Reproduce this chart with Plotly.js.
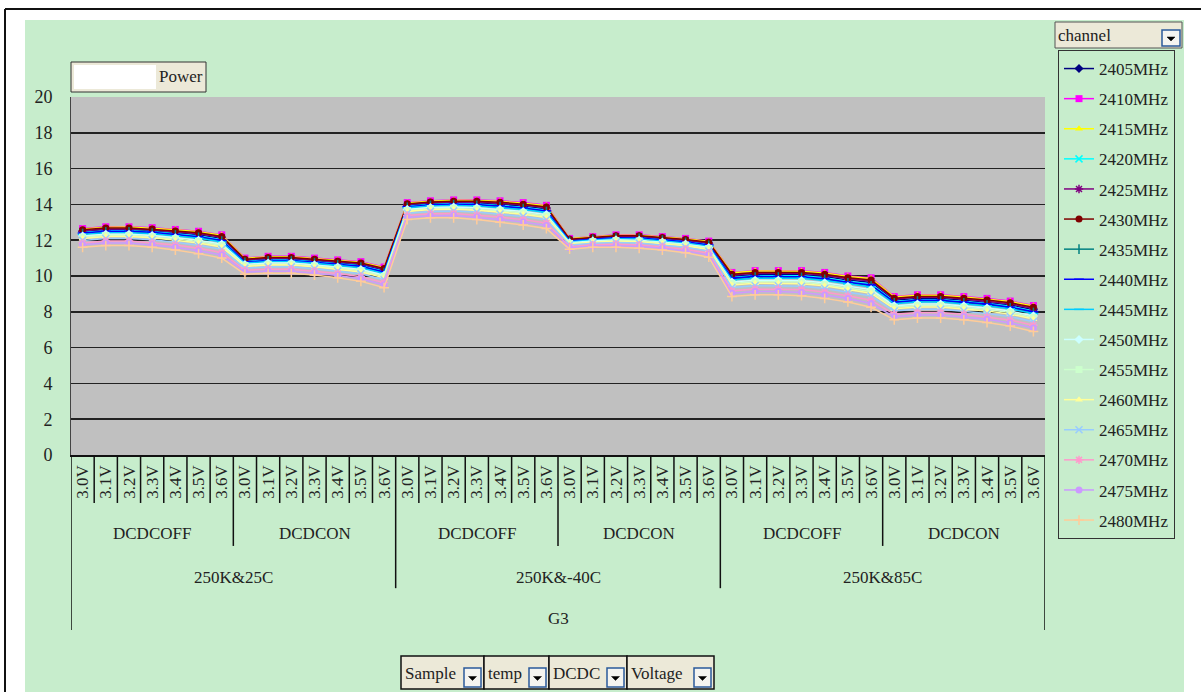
<!DOCTYPE html>
<html>
<head>
<meta charset="utf-8">
<script src="https://cdn.plot.ly/plotly-3.0.1.min.js"></script>
<style>html,body{margin:0;padding:0;background:#fff;}#chart{width:1201px;height:692px;}</style>
</head>
<body>
<div id="chart"></div>
<script>
// ---- categories (4-level x axis) ----
const samples = ['G3'];
const temps = ['250K&25C', '250K&-40C', '250K&85C'];
const dcdcModes = ['DCDCOFF', 'DCDCON'];
const voltages = ['3.0V', '3.1V', '3.2V', '3.3V', '3.4V', '3.5V', '3.6V'];

// ---- series: legend names ----
const channels = ['2405MHz','2410MHz','2415MHz','2420MHz','2425MHz','2430MHz','2435MHz','2440MHz',
                  '2445MHz','2450MHz','2455MHz','2460MHz','2465MHz','2470MHz','2475MHz','2480MHz'];

// ---- Power values, order: 25C OFF, 25C ON, -40C OFF, -40C ON, 85C OFF, 85C ON ----
const ch2405 = [12.48,12.58,12.58,12.52,12.42,12.30,12.09, 10.86,10.95,10.95,10.85,10.74,10.62,10.32, 13.95,14.05,14.09,14.07,14.01,13.90,13.74, 12.00,12.10,12.19,12.18,12.08,11.97,11.81, 9.98,10.08,10.08,10.08,9.97,9.77,9.64, 8.64,8.74,8.74,8.64,8.53,8.38,8.12];
const ch2410 = [12.65,12.75,12.75,12.70,12.60,12.50,12.30, 11.00,11.10,11.10,11.00,10.90,10.80,10.50, 14.10,14.20,14.25,14.25,14.20,14.10,13.95, 12.10,12.20,12.30,12.30,12.20,12.10,11.95, 10.20,10.30,10.30,10.30,10.20,10.00,9.90, 8.85,8.95,8.95,8.85,8.75,8.60,8.35];
const ch2415 = [12.63,12.73,12.74,12.68,12.58,12.47,12.28, 10.98,11.08,11.08,10.98,10.88,10.77,10.47, 14.08,14.18,14.23,14.22,14.17,14.07,13.92, 12.09,12.19,12.28,12.28,12.18,12.08,11.93, 10.18,10.28,10.28,10.27,10.17,9.97,9.86, 8.83,8.93,8.93,8.83,8.72,8.57,8.32];
const ch2420 = [12.43,12.53,12.53,12.47,12.36,12.24,12.03, 10.81,10.90,10.90,10.80,10.69,10.57,10.26, 13.90,14.00,14.04,14.02,13.95,13.84,13.68, 11.97,12.07,12.15,12.14,12.04,11.93,11.76, 9.92,10.02,10.02,10.01,9.90,9.70,9.55, 8.58,8.68,8.68,8.58,8.47,8.31,8.05];
const ch2425 = [12.53,12.63,12.63,12.58,12.47,12.36,12.16, 10.90,10.99,10.99,10.90,10.79,10.68,10.37, 13.99,14.10,14.14,14.13,14.07,13.96,13.81, 12.03,12.13,12.22,12.22,12.12,12.01,11.85, 10.05,10.15,10.15,10.15,10.04,9.84,9.72, 8.71,8.81,8.81,8.71,8.60,8.45,8.19];
const ch2430 = [12.58,12.68,12.68,12.62,12.52,12.41,12.21, 10.94,11.03,11.03,10.93,10.83,10.72,10.42, 14.03,14.13,14.18,14.17,14.12,14.01,13.86, 12.06,12.16,12.25,12.25,12.15,12.04,11.89, 10.10,10.20,10.20,10.20,10.10,9.90,9.78, 8.76,8.86,8.86,8.76,8.66,8.50,8.25];
const ch2435 = [12.37,12.47,12.47,12.40,12.29,12.16,11.95, 10.76,10.84,10.84,10.74,10.63,10.50,10.19, 13.84,13.94,13.98,13.95,13.88,13.76,13.60, 11.94,12.04,12.11,12.10,12.00,11.88,11.71, 9.84,9.94,9.94,9.92,9.81,9.61,9.45, 8.50,8.60,8.60,8.50,8.39,8.22,7.96];
const ch2440 = [12.40,12.50,12.50,12.44,12.32,12.20,11.99, 10.78,10.87,10.87,10.77,10.66,10.54,10.22, 13.87,13.97,14.01,13.99,13.91,13.80,13.64, 11.96,12.06,12.13,12.12,12.02,11.91,11.73, 9.88,9.98,9.98,9.96,9.85,9.65,9.50, 8.54,8.64,8.64,8.54,8.43,8.26,8.00];
const ch2445 = [12.32,12.42,12.42,12.36,12.24,12.11,11.90, 10.72,10.81,10.81,10.71,10.59,10.46,10.14, 13.81,13.91,13.94,13.91,13.83,13.71,13.55, 11.91,12.01,12.08,12.07,11.97,11.85,11.67, 9.78,9.88,9.88,9.87,9.75,9.55,9.39, 8.45,8.55,8.55,8.45,8.33,8.17,7.90];
const ch2450 = [12.23,12.33,12.33,12.26,12.14,12.00,11.78, 10.64,10.72,10.72,10.62,10.50,10.36,10.04, 13.72,13.82,13.85,13.81,13.72,13.60,13.43, 11.86,11.96,12.02,12.00,11.90,11.78,11.59, 9.66,9.76,9.76,9.74,9.62,9.42,9.24, 8.33,8.43,8.43,8.33,8.21,8.04,7.77];
const ch2455 = [12.17,12.27,12.27,12.19,12.07,11.93,11.70, 10.59,10.66,10.66,10.56,10.44,10.29,9.97, 13.66,13.76,13.79,13.74,13.65,13.52,13.35, 11.82,11.92,11.98,11.96,11.86,11.73,11.54, 9.58,9.68,9.68,9.66,9.53,9.33,9.14, 8.25,8.35,8.35,8.25,8.13,7.96,7.68];
const ch2460 = [12.10,12.20,12.20,12.13,12.00,11.85,11.62, 10.53,10.61,10.61,10.51,10.38,10.23,9.90, 13.61,13.71,13.73,13.68,13.58,13.45,13.27, 11.79,11.89,11.94,11.91,11.81,11.68,11.48, 9.50,9.60,9.60,9.57,9.45,9.25,9.04, 8.17,8.27,8.27,8.17,8.05,7.87,7.60];
const ch2465 = [11.99,12.10,12.10,12.02,11.89,11.72,11.49, 10.44,10.51,10.51,10.41,10.28,10.12,9.79, 13.51,13.61,13.63,13.57,13.46,13.33,13.14, 11.73,11.83,11.87,11.84,11.74,11.60,11.39, 9.36,9.46,9.46,9.43,9.30,9.10,8.88, 8.04,8.14,8.14,8.04,7.91,7.73,7.45];
const ch2470 = [11.85,11.95,11.95,11.86,11.73,11.55,11.31, 10.32,10.38,10.38,10.28,10.14,9.96,9.63, 13.38,13.48,13.49,13.41,13.29,13.15,12.96, 11.64,11.74,11.77,11.73,11.63,11.49,11.27, 9.17,9.27,9.27,9.24,9.10,8.90,8.65, 7.86,7.96,7.96,7.86,7.72,7.54,7.25];
const ch2475 = [11.74,11.84,11.84,11.74,11.60,11.41,11.17, 10.22,10.27,10.27,10.17,10.03,9.84,9.50, 13.27,13.37,13.38,13.29,13.16,13.01,12.82, 11.58,11.68,11.69,11.65,11.55,11.40,11.17, 9.03,9.13,9.13,9.08,8.94,8.74,8.46, 7.72,7.82,7.82,7.72,7.58,7.38,7.09];
const ch2480 = [11.60,11.70,11.70,11.60,11.45,11.25,11.00, 10.10,10.15,10.15,10.05,9.90,9.70,9.35, 13.15,13.25,13.25,13.15,13.00,12.85,12.65, 11.50,11.60,11.60,11.55,11.45,11.30,11.05, 8.85,8.95,8.95,8.90,8.75,8.55,8.25, 7.55,7.65,7.65,7.55,7.40,7.20,6.90];
const seriesValues = [ch2405,ch2410,ch2415,ch2420,ch2425,ch2430,ch2435,ch2440,ch2445,ch2450,ch2455,ch2460,ch2465,ch2470,ch2475,ch2480];

// ---- styles ----
const colors = ['#000080','#FF00FF','#FFFF00','#00FFFF','#800080','#800000','#008080','#0000FF',
                '#00CCFF','#CCFFFF','#CCFFCC','#FFFF99','#99CCFF','#FF99CC','#CC99FF','#FFCC99'];
const symbols = ['diamond','square','triangle-up','x-thin-open','asterisk-open','circle','line-ns-open','line-ew-open',
                 'line-ew-open','diamond','square','triangle-up','x-thin-open','asterisk-open','circle','cross-thin-open'];

const FONT = 'Liberation Serif, DejaVu Serif, serif';
const GREEN = '#C7EDCC';
const BEIGE = '#ECE9D8';
const TXT = '#222';

// ---- x positions from the category hierarchy ----
const xIdx = [], xText = [];
samples.forEach(() => temps.forEach(() => dcdcModes.forEach(() => voltages.forEach(v => {
  xIdx.push(xIdx.length); xText.push(v);
}))));
const N = xIdx.length;

const traces = channels.map((name, k) => ({
  type: 'scatter', mode: 'lines+markers', name: name, legendgroup: 'g' + k,
  x: xIdx, y: seriesValues[k],
  line: {color: colors[k], width: 1.5},
  marker: {symbol: symbols[k], color: colors[k], size: 7,
           line: {color: colors[k], width: (symbols[k].indexOf('open') >= 0 ? 1.5 : 0)}}
}));

// ---- pixel helpers for decorations ----
const L = 71, R = 1045, T = 97, B = 455;
const px = x => (x - L) / (R - L);
const py = y => (B - y) / (B - T);

const shapes = [];
const annotations = [];
function rect(x0, y0, x1, y1, fill, line, lw, layer) {
  shapes.push({type: 'rect', xref: 'paper', yref: 'paper', x0: px(x0), x1: px(x1), y0: py(y0), y1: py(y1),
               fillcolor: fill, line: {color: line || 'rgba(0,0,0,0)', width: lw || 0}, layer: layer || 'above'});
}
function hline(x0, x1, y, c, w) {
  shapes.push({type: 'line', xref: 'paper', yref: 'paper', x0: px(x0), x1: px(x1), y0: py(y), y1: py(y), line: {color: c, width: w}});
}
function vline(x, y0, y1, c, w) {
  shapes.push({type: 'line', xref: 'paper', yref: 'paper', x0: px(x), x1: px(x), y0: py(y0), y1: py(y1), line: {color: c, width: w}});
}
function text(x, y, s, size, anchor) {
  annotations.push({xref: 'paper', yref: 'paper', x: px(x), y: py(y), text: s, showarrow: false,
                    xanchor: anchor || 'left', yanchor: 'middle', font: {family: FONT, size: size || 17, color: TXT}});
}
function dropBtn(x0, y0, x1, y1) {
  shapes.push({type: 'rect', xref: 'paper', yref: 'paper', x0: px(x0), x1: px(x1), y0: py(y0), y1: py(y1),
               fillcolor: '#F4F4F0', line: {color: '#2A5A9A', width: 1.5}, layer: 'above'});
  const cx = (x0 + x1) / 2, cy = (y0 + y1) / 2;
  shapes.push({type: 'path', xref: 'paper', yref: 'paper', layer: 'above',
               path: `M ${px(cx - 4)} ${py(cy - 1)} L ${px(cx + 4)} ${py(cy - 1)} L ${px(cx)} ${py(cy + 3)} Z`,
               fillcolor: '#000', line: {color: '#000', width: 0.5}});
}

// white margins outside the green chart area + outer frame
rect(0, 0, 25, 692, '#FFFFFF', null, 0, 'below');
rect(0, 0, 1201, 20, '#FFFFFF', null, 0, 'below');
rect(1184, 0, 1201, 692, '#FFFFFF', null, 0, 'below');
hline(5, 1201, 9, '#111', 2);
vline(5, 9, 692, '#111', 2);

// category separators on the x axis (boundaries between categories)
for (let i = 0; i <= N; i++) {
  let yEnd = -0.134;
  if (i % voltages.length === 0) yEnd = -0.254;
  if (i % (voltages.length * dcdcModes.length) === 0) yEnd = -0.372;
  if (i === 0 || i === N) yEnd = -0.489;
  shapes.push({type: 'line', xref: 'x', yref: 'paper', x0: i - 0.5, x1: i - 0.5, y0: 0, y1: yEnd,
               line: {color: '#111', width: 1.5}});
}
// multi-level category labels
const catFont = {family: FONT, size: 17, color: TXT};
temps.forEach((t, ti) => {
  dcdcModes.forEach((d, di) => {
    const c = ti * 14 + di * 7 + 3;
    annotations.push({xref: 'x', yref: 'paper', x: c, y: -0.218, text: d, showarrow: false,
                      xanchor: 'center', yanchor: 'middle', font: catFont});
  });
  annotations.push({xref: 'x', yref: 'paper', x: ti * 14 + 6.5, y: -0.341, text: t, showarrow: false,
                    xanchor: 'center', yanchor: 'middle', font: catFont});
});
annotations.push({xref: 'x', yref: 'paper', x: (N - 1) / 2, y: -0.458, text: samples[0], showarrow: false,
                  xanchor: 'center', yanchor: 'middle', font: catFont});

// "Power" data field button
rect(71, 62, 206, 92, BEIGE, '#333', 1);
rect(74, 65, 156, 89, '#FFFFFF', null, 0);
text(205, 77, 'Power', 17, 'right');

// legend header "channel"
rect(1055, 22, 1182, 48, BEIGE, '#555', 1);
text(1056, 35, 'channel', 17, 'left');
dropBtn(1162, 30, 1180, 46);

// bottom field buttons
const fieldBtns = [['Sample', 401, 484], ['temp', 484, 549], ['DCDC', 549, 627], ['Voltage', 627, 714]];
fieldBtns.forEach(([s, a, b]) => {
  rect(a, 656, b, 689, BEIGE, '#111', 1.5);
  text(a + 2, 673, s, 17, 'left');
  dropBtn(b - 20, 668, b - 3, 687);
});

const layout = {
  width: 1201, height: 692,
  margin: {l: L, r: 1201 - R, t: T, b: 692 - B, pad: 0},
  paper_bgcolor: GREEN, plot_bgcolor: '#C0C0C0',
  font: {family: FONT, size: 17, color: TXT},
  showlegend: true,
  legend: {x: px(1058), y: py(50), xanchor: 'left', yanchor: 'top', bgcolor: GREEN,
           bordercolor: '#333', borderwidth: 1, tracegroupgap: 5, maxheight: 600,
           font: {family: FONT, size: 17, color: TXT}, itemwidth: 30},
  xaxis: {range: [-0.5, N - 0.5], tickvals: xIdx, ticktext: xText, tickangle: -90,
          showgrid: false, zeroline: false, showline: true, linecolor: '#111', linewidth: 1.5,
          ticks: '', tickfont: {family: FONT, size: 17, color: TXT}, ticklabelstandoff: 2, fixedrange: true},
  yaxis: {range: [0, 20], dtick: 2, tick0: 0, showgrid: true, gridcolor: '#222', gridwidth: 1.5,
          zeroline: false, showline: true, linecolor: '#444', linewidth: 1, ticks: '',
          tickfont: {family: FONT, size: 18, color: TXT}, ticklabelstandoff: 14, fixedrange: true},
  shapes: shapes, annotations: annotations
};

Plotly.newPlot('chart', traces, layout, {displayModeBar: false, staticPlot: true});
</script>
</body>
</html>
